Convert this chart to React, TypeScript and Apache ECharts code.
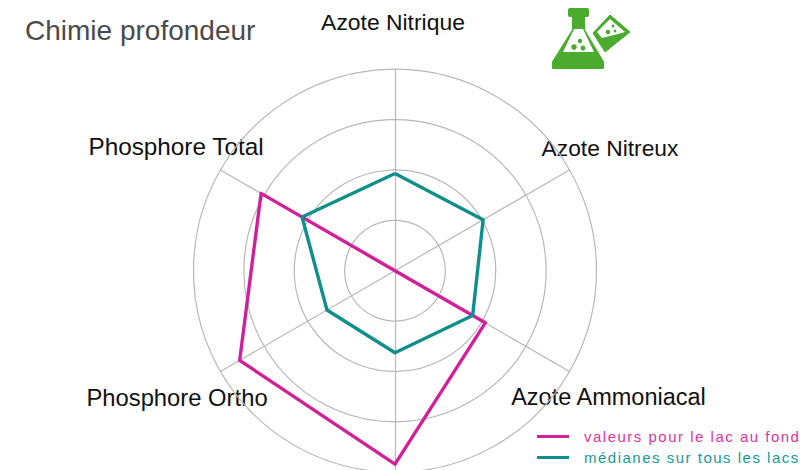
import React, { useEffect, useRef } from "react";
import * as echarts from "echarts";

// Radar axes run counter-clockwise from the top.
const categories = ["Azote Nitrique", "Phosphore Total", "Phosphore Ortho", "", "Azote Ammoniacal", "Azote Nitreux"];
const lakeValues = [0, 3.07, 3.56, 3.84, 2.07, 0];
const medianValues = [1.93, 2.13, 1.56, 1.63, 1.78, 2.02];
const seriesNames = ["valeurs pour le lac au fond", "médianes sur tous les lacs"];
const maxValue = 4;
const labelPositions: Record<string, [number, number, number]> = {
  "Azote Nitrique": [393, 22, 22.9],
  "Azote Nitreux": [610, 148, 22.8],
  "Azote Ammoniacal": [608.5, 397, 23.5],
  "Phosphore Ortho": [177, 397, 23.8],
  "Phosphore Total": [176, 146, 24.3],
};
const GREEN = "#4aab2f";
const PINK = "#d0219b";
const TEAL = "#0e8f8c";
const LEGEND_PINK = "#e0339f";
const LEGEND_TEAL = "#169a9a";

export default function App() {
  const ref = useRef<HTMLDivElement>(null);
  useEffect(() => {
    const chart = echarts.init(ref.current!, undefined, { renderer: "svg" });
    const legendText = (color: string) => ({
      color,
      fontFamily: "Liberation Sans",
      fontSize: 15,
      padding: [7, 0, 0, 10],
    });
    chart.setOption({
      animation: false,
      backgroundColor: "#fff",
      title: {
        text: "Chimie profondeur",
        left: 20,
        top: 11,
        textStyle: { color: "#4a4a4a", fontFamily: "Liberation Sans", fontSize: 28, fontWeight: "normal" },
      },
      legend: {
        orient: "vertical",
        left: 532,
        top: 424,
        itemWidth: 32,
        itemHeight: 3,
        itemGap: 6,
        icon: "rect",
        data: [
          { name: seriesNames[0], textStyle: legendText(LEGEND_PINK) },
          { name: seriesNames[1], textStyle: legendText(LEGEND_TEAL) },
        ],
      },
      radar: {
        center: [395, 270.7],
        radius: 201.5,
        splitNumber: 4,
        shape: "circle",
        startAngle: 90,
        indicator: categories.map((name) => ({ name, max: maxValue, min: 0 })),
        axisName: { show: false },
        axisLine: { lineStyle: { color: "#b8b8b8", width: 1.2 } },
        splitLine: { lineStyle: { color: "#b8b8b8", width: 1.2 } },
        splitArea: { show: false },
        axisTick: { show: false },
      },
      series: [
        {
          type: "radar",
          symbol: "none",
          silent: true,
          data: [
            { name: seriesNames[0], value: lakeValues, lineStyle: { color: PINK, width: 3.4 }, itemStyle: { color: PINK } },
            { name: seriesNames[1], value: medianValues, lineStyle: { color: TEAL, width: 3.4 }, itemStyle: { color: TEAL } },
          ],
        },
      ],
      graphic: [
        ...categories.filter(Boolean).map((name) => ({
          type: "text",
          x: labelPositions[name][0],
          y: labelPositions[name][1],
          style: { text: name, fontFamily: "Liberation Sans", fontSize: labelPositions[name][2], fill: "#111", align: "center", verticalAlign: "middle" },
        })),
        // flask icon
        { type: "polygon", shape: { points: [[573, 17], [584, 17], [584, 30], [603, 62], [603, 68], [553, 68], [553, 62], [573, 30]] }, style: { fill: GREEN, stroke: GREEN, lineWidth: 2, lineJoin: "round" } },
        { type: "rect", shape: { x: 568, y: 8, width: 21, height: 9, r: 2 }, style: { fill: GREEN } },
        { type: "polygon", shape: { points: [[574, 29], [583, 29], [594, 52], [563, 52]] }, style: { fill: "#fff" } },
        { type: "circle", shape: { cx: 574, cy: 47, r: 2.8 }, style: { fill: GREEN } },
        { type: "circle", shape: { cx: 580, cy: 41, r: 2.2 }, style: { fill: GREEN } },
        { type: "circle", shape: { cx: 583, cy: 48, r: 2.5 }, style: { fill: GREEN } },
        // tube icon
        { type: "polygon", shape: { points: [[593, 33], [610, 15], [630, 32], [605, 52]] }, style: { fill: GREEN, stroke: GREEN, lineWidth: 1, lineJoin: "round" } },
        { type: "polygon", shape: { points: [[597, 32], [610, 19], [625, 32], [618, 34], [602, 38]] }, style: { fill: "#fff" } },
        { type: "circle", shape: { cx: 608, cy: 32, r: 2.3 }, style: { fill: GREEN } },
        { type: "circle", shape: { cx: 613, cy: 26, r: 1.4 }, style: { fill: GREEN } },
        { type: "circle", shape: { cx: 615, cy: 31, r: 1.4 }, style: { fill: GREEN } },
      ],
    });
    return () => chart.dispose();
  }, []);
  return (
    <>
      <style>{`text[fill="${LEGEND_PINK}"],text[fill="${LEGEND_TEAL}"]{letter-spacing:1.5px}`}</style>
      <div ref={ref} style={{ width: 810, height: 470, position: "absolute", left: 0, top: 0 }} />
    </>
  );
}
